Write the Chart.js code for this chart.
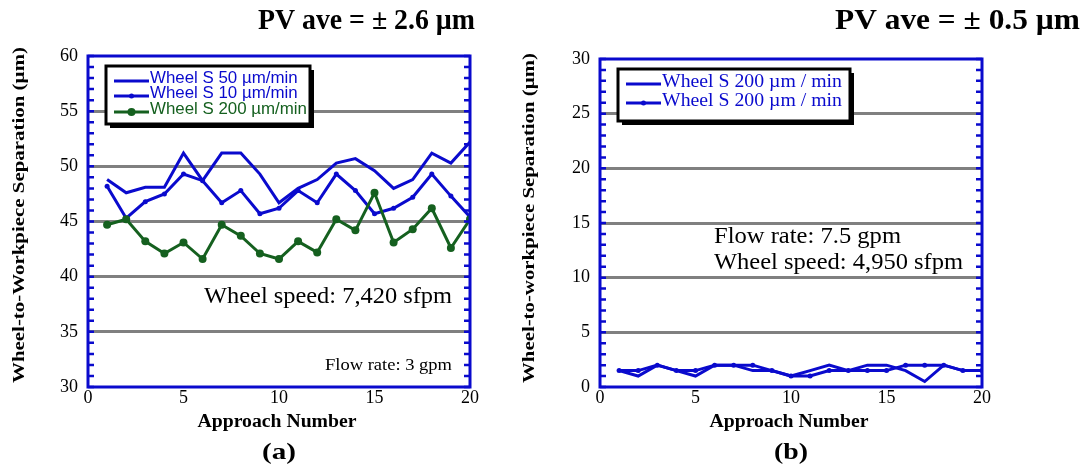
<!DOCTYPE html>
<html lang="en">
<head>
<meta charset="UTF-8">
<title>Wheel-to-Workpiece Separation</title>
<style>
  body { margin: 0; background: #fff; width: 1086px; height: 468px; position: relative; overflow: hidden; }
  .box { position: absolute; top: 0; height: 468px; }
  #boxA { left: 0; width: 500px; }
  #boxB { left: 500px; width: 586px; }
</style>
</head>
<body>
<div class="box" id="boxA"><canvas id="chartA"></canvas></div>
<div class="box" id="boxB"><canvas id="chartB"></canvas></div>

<script src="https://cdn.jsdelivr.net/npm/chart.js"></script>
<script>
// data
const approach = [1, 2, 3, 4, 5, 6, 7, 8, 9, 10, 11, 12, 13, 14, 15, 16, 17, 18, 19, 20];
const xTicks = [0, 5, 10, 15, 20];

// (a) flow rate 3 gpm, wheel speed 7,420 sfpm
const wheelS50 = [48.8, 47.6, 48.1, 48.1, 51.2, 48.7, 51.2, 51.2, 49.3, 46.7, 48.0, 48.8, 50.3, 50.7, 49.6, 48.0, 48.8, 51.2, 50.3, 52.2];
const wheelS10 = [48.2, 45.3, 46.8, 47.5, 49.3, 48.7, 46.7, 47.8, 45.7, 46.2, 47.8, 46.7, 49.3, 47.8, 45.7, 46.2, 47.2, 49.3, 47.3, 45.4];
const wheelS200 = [44.7, 45.2, 43.2, 42.1, 43.1, 41.6, 44.7, 43.7, 42.1, 41.6, 43.2, 42.2, 45.2, 44.2, 47.6, 43.1, 44.3, 46.2, 42.6, 45.2];
const yTicksA = [30, 35, 40, 45, 50, 55, 60];

// (b) flow rate 7.5 gpm, wheel speed 4,950 sfpm
const wheelS200b1 = [1.5, 1.0, 2.0, 1.5, 1.0, 2.0, 2.0, 1.5, 1.5, 1.0, 1.5, 2.0, 1.5, 2.0, 2.0, 1.5, 0.5, 2.0, 1.5, 1.5];
const wheelS200b2 = [1.5, 1.5, 2.0, 1.5, 1.5, 2.0, 2.0, 2.0, 1.5, 1.0, 1.0, 1.5, 1.5, 1.5, 1.5, 2.0, 2.0, 2.0, 1.5, 1.5];
const yTicksB = [0, 5, 10, 15, 20, 25, 30];

const BLUE = '#0a0acd';
const GREEN = '#15601f';
const GRID = '#808080';
const SERIF = '"Liberation Serif", "Times New Roman", serif';

function pts(ys) {
  return approach.map((x, i) => ({ x: x, y: ys[i] }));
}

// draw text, optionally squeezed/stretched to a given width
function drawText(ctx, text, x, y, font, color, width, align, rot) {
  ctx.save();
  ctx.font = font;
  ctx.fillStyle = color;
  ctx.textBaseline = 'middle';
  ctx.textAlign = align || 'left';
  const w = ctx.measureText(text).width;
  ctx.translate(x, y);
  if (rot) ctx.rotate(rot);
  if (width) ctx.scale(width / w, 1);
  ctx.fillText(text, 0, 0);
  ctx.restore();
}

const deco = {
  id: 'deco',
  afterDatasetsDraw(chart, args, o) {
    const ctx = chart.ctx;
    const a = chart.chartArea;
    const ys = chart.scales.y;
    ctx.save();
    // inward minor ticks on both sides
    ctx.strokeStyle = BLUE;
    ctx.lineWidth = 2.5;
    for (let v = ys.min; v <= ys.max; v++) {
      const py = ys.getPixelForValue(v);
      ctx.beginPath();
      ctx.moveTo(a.left, py); ctx.lineTo(a.left + 6, py);
      ctx.moveTo(a.right, py); ctx.lineTo(a.right - 6, py);
      ctx.stroke();
    }
    ctx.lineWidth = 3;
    ctx.strokeRect(a.left, a.top, a.right - a.left, a.bottom - a.top);

    // legend box with drop shadow
    const L = o.legend;
    ctx.fillStyle = '#000';
    ctx.fillRect(L.x + 4, L.y + 4, L.w, L.h);
    ctx.fillStyle = '#fff';
    ctx.fillRect(L.x, L.y, L.w, L.h);
    ctx.strokeStyle = '#000';
    ctx.lineWidth = 3;
    ctx.strokeRect(L.x, L.y, L.w, L.h);
    ctx.font = L.font;
    let maxW = 0;
    chart.data.datasets.forEach(d => { maxW = Math.max(maxW, ctx.measureText(d.label).width); });
    const sx = L.textWidth / maxW;
    chart.data.datasets.forEach((d, i) => {
      const ry = L.rows[i];
      ctx.strokeStyle = d.borderColor;
      ctx.lineWidth = 3;
      ctx.beginPath();
      ctx.moveTo(L.x0, ry); ctx.lineTo(L.x1, ry);
      ctx.stroke();
      if (d.pointRadius > 0) {
        ctx.fillStyle = d.borderColor;
        ctx.beginPath();
        ctx.arc((L.x0 + L.x1) / 2, ry, d.pointRadius, 0, Math.PI * 2);
        ctx.fill();
      }
      const w = ctx.measureText(d.label).width;
      drawText(ctx, d.label, L.tx, ry - 2, L.font, d.borderColor, w * sx);
    });
    ctx.restore();
  },
  afterDraw(chart, args, o) {
    const ctx = chart.ctx;
    const a = chart.chartArea;
    const t = o.title;
    drawText(ctx, t.text, t.x, t.y, 'bold 29px ' + SERIF, '#000', t.width, 'right');
    drawText(ctx, o.yTitle.text, o.yTitle.x, o.yTitle.y, 'bold 17px ' + SERIF, '#000', o.yTitle.width, 'center', -Math.PI / 2);
    drawText(ctx, 'Approach Number', (a.left + a.right) / 2 - 2, 422, 'bold 18px ' + SERIF, '#000', 159, 'center');
    drawText(ctx, o.panel, (a.left + a.right) / 2, 453, 'bold 24px ' + SERIF, '#000', 34, 'center');
    o.notes.forEach(n => drawText(ctx, n.text, n.x, n.y, n.size + 'px ' + SERIF, '#000', n.width));
  }
};

function scales(yMin, yMax, yWidth) {
  return {
    x: {
      type: 'linear', min: 0, max: 20,
      afterBuildTicks: s => { s.ticks = xTicks.map(v => ({ value: v })); },
      afterFit: s => { s.height = 81; },
      grid: { display: false, drawTicks: false },
      border: { display: false },
      ticks: { color: '#000', padding: 0, font: { family: SERIF, size: 18 }, maxRotation: 0 }
    },
    y: {
      min: yMin, max: yMax,
      afterFit: s => { s.width = yWidth; },
      grid: {
        drawTicks: false, lineWidth: 3,
        color: c => (c.tick && (c.tick.value === yMin || c.tick.value === yMax)) ? 'rgba(0,0,0,0)' : GRID
      },
      border: { display: false },
      ticks: { color: '#000', padding: 10, stepSize: 5, font: { family: SERIF, size: 18 } }
    }
  };
}

new Chart(document.getElementById('chartA'), {
  type: 'line',
  data: {
    datasets: [
      { label: 'Wheel S 50 \u00b5m/min', data: pts(wheelS50), borderColor: BLUE, backgroundColor: BLUE, borderWidth: 3, pointRadius: 0, order: 2 },
      { label: 'Wheel S 10 \u00b5m/min', data: pts(wheelS10), borderColor: BLUE, backgroundColor: BLUE, borderWidth: 3, pointRadius: 2.5, pointBorderWidth: 0, order: 1 },
      { label: 'Wheel S 200 \u00b5m/min', data: pts(wheelS200), borderColor: GREEN, backgroundColor: GREEN, borderWidth: 3, pointRadius: 4, pointBorderWidth: 0, order: 0 }
    ]
  },
  options: {
    responsive: true, maintainAspectRatio: false, animation: false, devicePixelRatio: 1,
    layout: { padding: { left: 0, top: 56, right: 30, bottom: 0 } },
    scales: scales(30, 60, 88),
    plugins: {
      legend: { display: false },
      tooltip: { enabled: false },
      deco: {
        title: { text: 'PV ave = \u00b1 2.6 \u00b5m', x: 475, y: 22, width: 217 },
        yTitle: { text: 'Wheel-to-Workpiece Separation (\u00b5m)', x: 20, y: 215, width: 336 },
        panel: '(a)',
        notes: [
          { text: 'Wheel speed: 7,420 sfpm', x: 204, y: 297, size: 24, width: 248 },
          { text: 'Flow rate: 3 gpm', x: 325, y: 366, size: 17, width: 127 }
        ],
        legend: { x: 106, y: 66, w: 204, h: 58, x0: 114, x1: 149, tx: 150, rows: [81, 96, 112], font: '16px "Liberation Sans", Arial, sans-serif', textWidth: 157 }
      }
    }
  },
  plugins: [deco]
});

new Chart(document.getElementById('chartB'), {
  type: 'line',
  data: {
    datasets: [
      { label: 'Wheel S 200 \u00b5m / min', data: pts(wheelS200b1), borderColor: BLUE, backgroundColor: BLUE, borderWidth: 3, pointRadius: 0 },
      { label: 'Wheel S 200 \u00b5m / min', data: pts(wheelS200b2), borderColor: BLUE, backgroundColor: BLUE, borderWidth: 3, pointRadius: 2.5, pointBorderWidth: 0 }
    ]
  },
  options: {
    responsive: true, maintainAspectRatio: false, animation: false, devicePixelRatio: 1,
    layout: { padding: { left: 0, top: 59, right: 104, bottom: 0 } },
    scales: scales(0, 30, 100),
    plugins: {
      legend: { display: false },
      tooltip: { enabled: false },
      deco: {
        title: { text: 'PV ave = \u00b1 0.5 \u00b5m', x: 580, y: 22, width: 245 },
        yTitle: { text: 'Wheel-to-workpiece Separation (\u00b5m)', x: 30, y: 218, width: 330 },
        panel: '(b)',
        notes: [
          { text: 'Flow rate: 7.5 gpm', x: 214, y: 237, size: 23, width: 187 },
          { text: 'Wheel speed: 4,950 sfpm', x: 214, y: 263, size: 23, width: 249 }
        ],
        legend: { x: 118, y: 69, w: 232, h: 52, x0: 126, x1: 161, tx: 162, rows: [84, 103], font: '18px ' + SERIF, textWidth: 180 }
      }
    }
  },
  plugins: [deco]
});
</script>
</body>
</html>
